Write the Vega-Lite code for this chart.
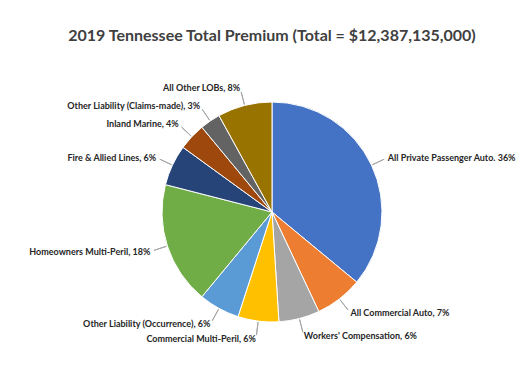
{
  "$schema": "https://vega.github.io/schema/vega-lite/v6.json",
  "width": 514,
  "height": 300,
  "autosize": {"type": "none"},
  "padding": {"left": 15, "top": 62, "right": 0, "bottom": 20},
  "background": "white",
  "title": {
    "text": "2019 Tennessee Total Premium (Total = $12,387,135,000)",
    "font": "Lato",
    "fontSize": 16,
    "fontWeight": "bold",
    "color": "#404040",
    "anchor": "middle",
    "offset": 18
  },
  "data": {
    "values": [
      {"order": 1, "lob": "All Private Passenger Auto", "pct": 36, "label": "All Private Passenger Auto. 36%"},
      {"order": 2, "lob": "All Commercial Auto", "pct": 7, "label": "All Commercial Auto, 7%"},
      {"order": 3, "lob": "Workers' Compensation", "pct": 6, "label": "Workers' Compensation, 6%"},
      {"order": 4, "lob": "Commercial Multi-Peril", "pct": 6, "label": "Commercial Multi-Peril, 6%"},
      {"order": 5, "lob": "Other Liability (Occurrence)", "pct": 6, "label": "Other Liability (Occurrence), 6%"},
      {"order": 6, "lob": "Homeowners Multi-Peril", "pct": 18, "label": "Homeowners Multi-Peril, 18%"},
      {"order": 7, "lob": "Fire & Allied Lines", "pct": 6, "label": "Fire & Allied Lines, 6%"},
      {"order": 8, "lob": "Inland Marine", "pct": 4, "label": "Inland Marine, 4%"},
      {"order": 9, "lob": "Other Liability (Claims-made)", "pct": 3, "label": "Other Liability (Claims-made), 3%"},
      {"order": 10, "lob": "All Other LOBs", "pct": 8, "label": "All Other LOBs, 8%"}
    ]
  },
  "encoding": {
    "theta": {"field": "pct", "type": "quantitative", "stack": true},
    "order": {"field": "order", "type": "quantitative"},
    "detail": {"field": "lob", "type": "nominal"}
  },
  "layer": [
    {
      "mark": {"type": "arc", "radius": 110, "stroke": "white", "strokeWidth": 1},
      "encoding": {
        "color": {
          "field": "lob",
          "type": "nominal",
          "scale": {
            "domain": ["All Private Passenger Auto", "All Commercial Auto", "Workers' Compensation", "Commercial Multi-Peril", "Other Liability (Occurrence)", "Homeowners Multi-Peril", "Fire & Allied Lines", "Inland Marine", "Other Liability (Claims-made)", "All Other LOBs"],
            "range": ["#4472C4", "#ED7D31", "#A5A5A5", "#FFC000", "#5B9BD5", "#70AD47", "#264478", "#9E480E", "#636363", "#997300"]
          },
          "legend": null
        }
      }
    },
    {
      "mark": {"type": "arc", "radius": 124, "radius2": 111, "padAngle": 3, "filled": false, "stroke": "#a6a6a6", "strokeWidth": 1},
      "encoding": {}
    },
    {
      "mark": {
        "type": "text",
        "radius": 128,
        "font": "Lato",
        "fontSize": 9,
        "fontWeight": "bold",
        "fill": "#262626",
        "baseline": "middle",
        "align": {"expr": "(datum.pct_start + datum.pct_end) / 2 < 50 ? 'left' : 'right'"}
      },
      "encoding": {"text": {"field": "label", "type": "nominal"}}
    }
  ]
}
